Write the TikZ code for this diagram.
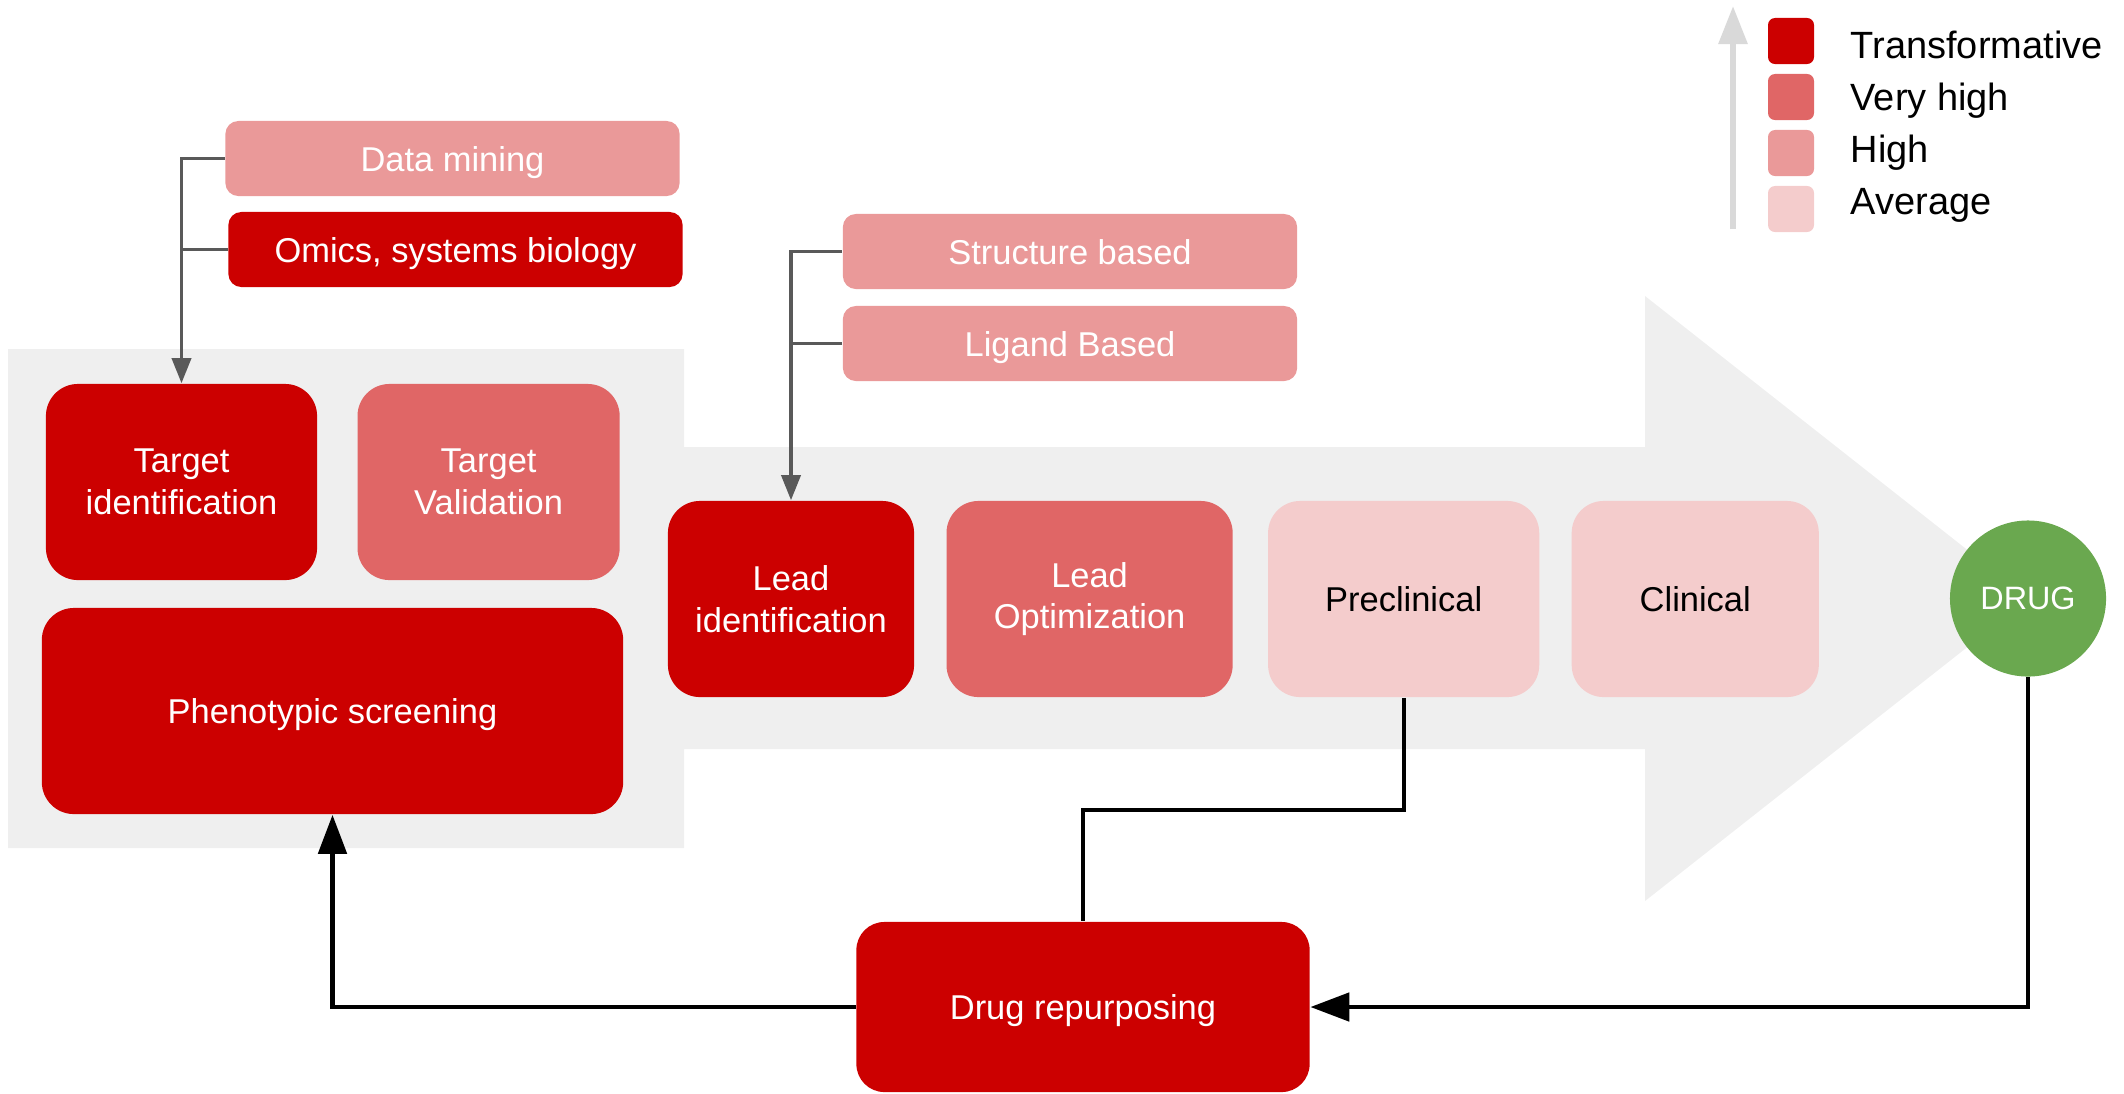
\documentclass[tikz,border=0pt]{standalone}
\usepackage{fontspec}
\setmainfont{Liberation Sans}
\usetikzlibrary{arrows.meta, positioning}
\definecolor{transred}{RGB}{204, 0, 0}
\definecolor{veryhigh}{RGB}{224, 102, 102}
\definecolor{highpink}{RGB}{234, 153, 153}
\definecolor{avgpink}{RGB}{244, 204, 204}
\definecolor{druggreen}{RGB}{106, 168, 79}
\definecolor{bggray}{RGB}{239, 239, 239}
\definecolor{linkgray}{RGB}{89, 89, 89}
\definecolor{scalegray}{RGB}{217, 217, 217}
\tikzset{
  stage/.style={rounded corners=0.32cm, minimum height=1.96cm, align=center, text=white, inner sep=0pt, font=\fontsize{9.8}{11.8}\selectfont},
  oneline/.style={text height=0.25cm, text depth=0cm},
  method/.style={oneline, rounded corners=0.13cm, minimum width=4.54cm, minimum height=0.75cm, text=white, inner sep=0pt, font=\fontsize{9.8}{11.8}\selectfont},
  legbox/.style={rounded corners=0.07cm, minimum size=0.46cm, inner sep=0pt},
  feedline/.style={line width=1pt, linkgray},
  feedarrow/.style={-{Triangle[length=2.5mm, width=1.9mm]}, line width=1pt, linkgray},
  loopline/.style={line width=1.1pt, black},
  looparrow/.style={-{Triangle[length=3.9mm, width=2.8mm]}, line width=1.4pt, black},
  scalearrow/.style={-{Triangle[length=3.8mm, width=2.8mm]}, line width=1.7pt, scalegray}
}

\begin{document}
\begin{tikzpicture}[x=0.01cm, y=-0.01cm]
    \useasboundingbox (0,0) rectangle (2124,1093);
    % pipeline arrow behind the stages
    \fill[bggray] (8,349) -- (684,349) -- (684,447) -- (1645,447) -- (1645,296) -- (2029,598.5)
        -- (1645,901) -- (1645,749) -- (684,749) -- (684,848) -- (8,848) -- cycle;

    \node (tid) [stage, fill=transred, minimum width=2.71cm] at (181.5,482) {Target\\identification};
    \node (tval) [stage, fill=veryhigh, minimum width=2.62cm, right=0.39cm of tid] {Target\\Validation};
    \node (pheno) [stage, oneline, fill=transred, minimum width=5.81cm, minimum height=2.06cm] at (332.5,711) {Phenotypic screening};
    \node (dmine) [method, fill=highpink] at (452.5,158.5) {Data mining};
    \node (omics) [method, fill=transred] at (455.5,249.5) {Omics, systems biology};

    \node (lid) [stage, fill=transred, minimum width=2.46cm] at (791,599) {Lead\\identification};
    \node (lopt) [stage, fill=veryhigh, minimum width=2.86cm, right=0.31cm of lid] {Lead\\Optimization};
    \node (precl) [stage, oneline, fill=avgpink, text=black, minimum width=2.71cm, right=0.34cm of lopt] {Preclinical};
    \node (clin) [stage, oneline, fill=avgpink, text=black, minimum width=2.47cm, right=0.31cm of precl] {Clinical};
    \node (sbased) [method, fill=highpink] at (1070,251.5) {Structure based};
    \node (lbased) [method, fill=highpink] at (1070,343.5) {Ligand Based};

    \node (drug) [circle, fill=druggreen, minimum size=1.56cm, inner sep=0pt, text=white, font=\fontsize{9.2}{11}\selectfont] at (2028,598.5) {DRUG};
    \node (repurp) [stage, oneline, fill=transred, minimum width=4.53cm, minimum height=1.70cm, rounded corners=0.28cm] at (1083,1007) {Drug repurposing};

    \draw[feedarrow] (dmine.west) -| (tid.north);
    \draw[feedline] (omics.west) -- (omics.west -| tid.north);
    \draw[feedarrow] (sbased.west) -| (lid.north);
    \draw[feedline] (lbased.west) -- (lbased.west -| lid.north);

    \draw[loopline] (precl.south) -- ++(0,112) -| (repurp.north);
    \draw[looparrow] (drug.south) |- (repurp.east);
    \draw[looparrow] (repurp.west) -| (pheno.south);

    % legend
    \coordinate (scalebot) at (1733,229);
    \coordinate (scaletop) at (1733,6);
    \draw[scalearrow] (scalebot) -- (scaletop);
    \foreach \col/\lab [count=\i] in {transred/Transformative, veryhigh/Very high, highpink/High, avgpink/Average} {
        \node (leg\i) [legbox, fill=\col] at (1791,{41+56*(\i-1)}) {};
        \node (leglab\i) [anchor=base west, inner sep=0pt, font=\fontsize{10.8}{13}\selectfont] at (1850,{58+52*(\i-1)}) {\lab};
    }
\end{tikzpicture}
\end{document}
